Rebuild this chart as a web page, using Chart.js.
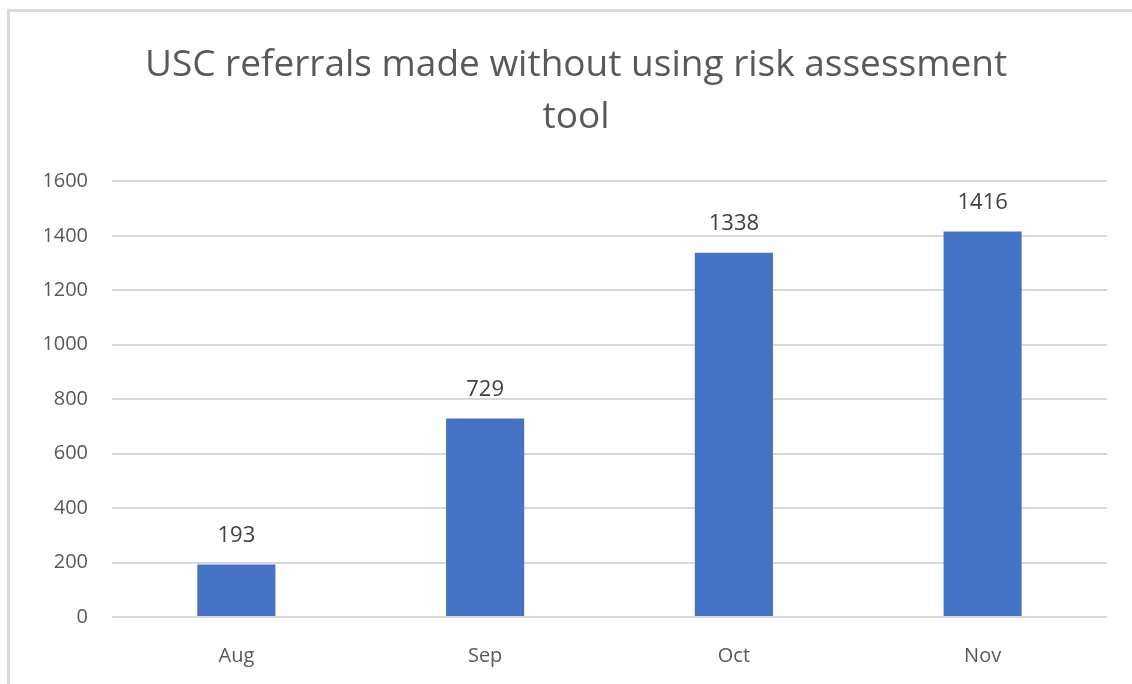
<!DOCTYPE html>
<html>
<head>
<meta charset="utf-8">
<title>USC referrals</title>
<script src="https://cdn.jsdelivr.net/npm/chart.js@4.4.1/dist/chart.umd.min.js"></script>
<style>
  html, body { margin: 0; padding: 0; background: #fff; }
  #wrap { position: relative; width: 1132px; height: 684px; overflow: hidden; }
  #frame {
    position: absolute; left: 7px; top: 9px; right: 0; bottom: 0;
    border-top: 3px solid #d9d9d9; border-left: 3px solid #d9d9d9;
  }
  #myChart { position: absolute; left: 0; top: 0; }
</style>
</head>
<body>
<div id="wrap">
  <div id="frame"></div>
  <canvas id="myChart" width="1132" height="684"></canvas>
</div>
<script>
// data
const months = ['Aug', 'Sep', 'Oct', 'Nov'];
const referrals = [193, 729, 1338, 1416];
const yTicks = [0, 200, 400, 600, 800, 1000, 1200, 1400, 1600];

const FONT = "'Open Sans', 'Noto Sans', sans-serif";

// values written above each bar
const valueLabels = {
    id: 'valueLabels',
    afterDatasetsDraw(chart) {
        const ctx = chart.ctx;
        ctx.save();
        ctx.font = '22px ' + FONT;
        ctx.fillStyle = '#404040';
        ctx.textAlign = 'center';
        ctx.textBaseline = 'middle';
        chart.getDatasetMeta(0).data.forEach(function (bar, i) {
            ctx.fillText(String(referrals[i]), bar.x, bar.y - 29);
        });
        ctx.restore();
    }
};

var ctx = document.getElementById('myChart').getContext('2d');
var chart = new Chart(ctx, {
    type: 'bar',
    data: {
        labels: months,
        datasets: [{
            label: 'USC referrals',
            backgroundColor: '#4472c4',
            borderWidth: 0,
            barPercentage: 1,
            categoryPercentage: 0.314,
            data: referrals
        }]
    },
    options: {
        responsive: false,
        animation: false,
        devicePixelRatio: 1,
        layout: { padding: { top: 14, right: 25, bottom: 0, left: 45 } },
        plugins: {
            legend: { display: false },
            tooltip: { enabled: false },
            title: {
                display: true,
                text: ['USC referrals made without using risk assessment', 'tool'],
                color: '#595959',
                font: { family: FONT, size: 37, weight: 'normal', lineHeight: 1.41 },
                padding: { top: 25, bottom: 38 }
            }
        },
        scales: {
            x: {
                grid: { display: false },
                border: { display: false },
                ticks: {
                    color: '#595959',
                    font: { family: FONT, size: 20 },
                    padding: 19
                },
                afterFit: function (scale) { scale.height = 67; }
            },
            y: {
                min: 0,
                max: 1600,
                afterBuildTicks: function (scale) {
                    scale.ticks = yTicks.map(function (v) { return { value: v }; });
                },
                grid: { color: '#d9d9d9', lineWidth: 2, drawTicks: false },
                border: { display: false },
                ticks: {
                    color: '#595959',
                    font: { family: FONT, size: 20 },
                    padding: 24,
                    callback: function (value) { return String(value); }
                },
                afterFit: function (scale) { scale.width = 67; }
            }
        }
    },
    plugins: [valueLabels]
});
</script>
</body>
</html>
